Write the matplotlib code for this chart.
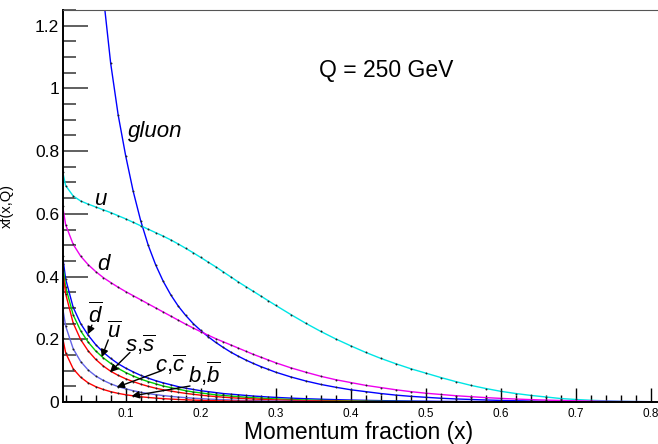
import matplotlib
matplotlib.use("Agg")
import matplotlib.pyplot as plt
from matplotlib.ticker import MultipleLocator, FixedLocator
from matplotlib.transforms import ScaledTranslation

plt.rcParams['font.family'] = ['Liberation Sans', 'DejaVu Sans']
plt.rcParams['mathtext.fontset'] = 'custom'
plt.rcParams['mathtext.it'] = 'Liberation Sans:italic'
plt.rcParams['mathtext.rm'] = 'Liberation Sans'
plt.rcParams['mathtext.bf'] = 'Liberation Sans:bold'

# Momentum fraction grid
x = [0.016,
     0.02, 0.03, 0.04, 0.05, 0.06, 0.07, 0.08, 0.09, 0.10, 0.11,
     0.12, 0.13, 0.14, 0.15, 0.16, 0.17, 0.18, 0.19, 0.20, 0.21,
     0.22, 0.23, 0.24, 0.25, 0.26, 0.27, 0.28, 0.29, 0.30,
     0.32, 0.34, 0.36, 0.38, 0.40, 0.42, 0.44, 0.46, 0.48, 0.50,
     0.52, 0.54, 0.56, 0.58, 0.60, 0.62, 0.64, 0.66, 0.68, 0.70,
     0.72, 0.74, 0.76, 0.78, 0.80]

# x f(x, Q) at Q = 250 GeV
gluon = [7.0,
         5.6, 3.7, 2.7, 2.05, 1.62, 1.30, 1.08, 0.915, 0.785, 0.672,
         0.578, 0.500, 0.437, 0.385, 0.342, 0.306, 0.276, 0.250, 0.228, 0.208,
         0.190, 0.174, 0.159, 0.146, 0.134, 0.123, 0.113, 0.104, 0.095,
         0.080, 0.067, 0.056, 0.047, 0.039, 0.033, 0.027, 0.022, 0.018, 0.015,
         0.012, 0.0098, 0.008, 0.0064, 0.005, 0.004, 0.0031, 0.0024, 0.0018, 0.0014,
         0.001, 0.0008, 0.0006, 0.0004, 0.0003]
u_q = [0.735,
       0.690, 0.657, 0.641, 0.631, 0.622, 0.613, 0.604, 0.594, 0.584, 0.573,
       0.562, 0.551, 0.540, 0.529, 0.517, 0.504, 0.490, 0.476, 0.461, 0.446,
       0.431, 0.415, 0.399, 0.383, 0.368, 0.353, 0.338, 0.323, 0.308,
       0.279, 0.251, 0.225, 0.201, 0.179, 0.158, 0.139, 0.122, 0.106, 0.092,
       0.078, 0.065, 0.053, 0.043, 0.034, 0.027, 0.021, 0.016, 0.011, 0.008,
       0.0055, 0.0037, 0.0024, 0.0015, 0.001]
d_q = [0.625,
       0.565, 0.503, 0.465, 0.438, 0.416, 0.397, 0.381, 0.366, 0.352, 0.339,
       0.326, 0.313, 0.300, 0.287, 0.274, 0.261, 0.248, 0.236, 0.224, 0.213,
       0.202, 0.192, 0.182, 0.172, 0.162, 0.152, 0.143, 0.134, 0.125,
       0.109, 0.095, 0.082, 0.071, 0.062, 0.053, 0.046, 0.039, 0.033, 0.028,
       0.024, 0.020, 0.017, 0.014, 0.0115, 0.0094, 0.0076, 0.0061, 0.0048, 0.0038,
       0.003, 0.0023, 0.0017, 0.0013, 0.001]
dbar = [0.465,
        0.392, 0.302, 0.250, 0.213, 0.183, 0.159, 0.139, 0.122, 0.108, 0.096,
        0.085, 0.076, 0.068, 0.061, 0.055, 0.049, 0.044, 0.040, 0.036, 0.033,
        0.030, 0.027, 0.025, 0.023, 0.021, 0.019, 0.0175, 0.016, 0.0147,
        0.0124, 0.0105, 0.0089, 0.0075, 0.0063, 0.0053, 0.0044, 0.0037, 0.0031, 0.0026,
        0.0021, 0.0017, 0.0014, 0.0011, 0.0009, 0.0007, 0.00055, 0.00042, 0.00032, 0.00024,
        0.00018, 0.00013, 0.0001, 0.00007, 0.00005]
ubar = [0.44,
        0.367, 0.278, 0.227, 0.191, 0.163, 0.141, 0.123, 0.107, 0.094, 0.083,
        0.073, 0.065, 0.058, 0.051, 0.046, 0.041, 0.036, 0.032, 0.029, 0.026,
        0.023, 0.021, 0.019, 0.017, 0.0152, 0.0137, 0.0123, 0.011, 0.0099,
        0.008, 0.0065, 0.0052, 0.0042, 0.0034, 0.0027, 0.0022, 0.0017, 0.0014, 0.0011,
        0.0009, 0.0007, 0.00055, 0.00043, 0.00034, 0.00026, 0.0002, 0.00015, 0.00011, 0.00008,
        0.00006, 0.00004, 0.00003, 0.00002, 0.00001]
s_q = [0.42,
       0.345, 0.252, 0.199, 0.163, 0.136, 0.115, 0.098, 0.085, 0.074, 0.065,
       0.057, 0.050, 0.044, 0.039, 0.035, 0.031, 0.0275, 0.0245, 0.0218, 0.0194,
       0.0173, 0.0154, 0.0137, 0.0122, 0.0109, 0.0097, 0.0086, 0.0077, 0.0068,
       0.0054, 0.0043, 0.0034, 0.0027, 0.0021, 0.0016, 0.0013, 0.001, 0.0008, 0.0006,
       0.00046, 0.00035, 0.00027, 0.0002, 0.00015, 0.00011, 0.00008, 0.00006, 0.00004, 0.00003,
       0.00002, 0.00001, 0.00001, 0.0, 0.0]
c_q = [0.30,
       0.242, 0.170, 0.129, 0.102, 0.083, 0.069, 0.058, 0.049, 0.042, 0.036,
       0.031, 0.027, 0.0235, 0.0205, 0.018, 0.0158, 0.0139, 0.0122, 0.0107, 0.0094,
       0.0083, 0.0073, 0.0064, 0.0056, 0.0049, 0.0043, 0.0038, 0.0033, 0.0029,
       0.0022, 0.0017, 0.0013, 0.001, 0.0008, 0.0006, 0.00045, 0.00034, 0.00026, 0.0002,
       0.00015, 0.00011, 0.00008, 0.00006, 0.00004, 0.00003, 0.00002, 0.00001, 0.00001, 0.0,
       0.0, 0.0, 0.0, 0.0, 0.0]
b_q = [0.205,
       0.157, 0.106, 0.079, 0.061, 0.049, 0.040, 0.033, 0.0275, 0.0232, 0.0197,
       0.0168, 0.0144, 0.0124, 0.0107, 0.0093, 0.0081, 0.007, 0.0061, 0.0053, 0.0046,
       0.004, 0.0035, 0.003, 0.0026, 0.0023, 0.002, 0.0017, 0.0015, 0.0013,
       0.001, 0.0008, 0.0006, 0.00045, 0.00035, 0.00027, 0.0002, 0.00015, 0.00011, 0.00008,
       0.00006, 0.00004, 0.00003, 0.00002, 0.00001, 0.0, 0.0, 0.0, 0.0, 0.0,
       0.0, 0.0, 0.0, 0.0, 0.0]

series = [
    (gluon, '#0000ff'),
    (u_q, '#00e5e5'),
    (d_q, '#ee00ee'),
    (dbar, '#0000ff'),
    (ubar, '#00d000'),
    (s_q, '#ff0000'),
    (c_q, '#6464e6'),
    (b_q, '#ff0000'),
]

W, H = 658, 444
fig = plt.figure(figsize=(W / 100, H / 100), dpi=100)
x_lo, x_hi = 0.0158, 0.82
px_per_unit = 750.4
left_px, bottom_px, top_px = 62.5, 402.0, 10.0
ax_w = (x_hi - x_lo) * px_per_unit
ax_h = bottom_px - top_px
ax = fig.add_axes([left_px / W, (H - bottom_px) / H, ax_w / W, ax_h / H])
ax.set_xlim(x_lo, x_hi)
ax.set_ylim(0, 1.25)

for vals, col in series:
    ax.plot(x, vals, color=col, lw=1.0, marker='o', markersize=1.4,
            markerfacecolor='#222222', markeredgewidth=0, solid_joinstyle='round')

# axes styling
ax.spines['right'].set_visible(False)
ax.spines['left'].set_linewidth(1.4)
ax.spines['bottom'].set_linewidth(1.4)
ax.spines['top'].set_linewidth(0.8)
ax.spines['top'].set_color('#555555')

ax.xaxis.set_major_locator(FixedLocator([0.1, 0.2, 0.3, 0.4, 0.5, 0.6, 0.7, 0.8]))
ax.xaxis.set_minor_locator(MultipleLocator(0.02))
ax.yaxis.set_major_locator(MultipleLocator(0.2))
ax.yaxis.set_minor_locator(MultipleLocator(0.05))
ax.xaxis.set_major_formatter(plt.FuncFormatter(lambda v, p: f"{v:g}"))
ax.yaxis.set_major_formatter(plt.FuncFormatter(lambda v, p: f"{v:g}"))

ax.tick_params(axis='x', which='major', direction='in', length=10, width=1,
               labelsize=8.5, pad=4, color='black')
ax.tick_params(axis='x', which='minor', direction='in', length=5, width=1, color='black')
ax.tick_params(axis='y', which='major', direction='in', length=18, width=1.2,
               labelsize=12.5, pad=2.5, color='#444444')
ax.tick_params(axis='y', which='minor', direction='in', length=9, width=1.2, color='#444444')

ax.set_xlabel('Momentum fraction (x)', fontsize=16.5)
ax.xaxis.set_label_coords((359 - left_px) / ax_w, -(421 - bottom_px) / ax_h)
ax.set_ylabel('xf(x,Q)', fontsize=10.5)
ax.yaxis.set_label_coords(-(left_px - 14) / ax_w, 0.5)

ax.text(0.3576, 1.035, 'Q = 250 GeV', fontsize=16.5, ha='left', va='baseline')

lab = dict(fontsize=16, fontstyle='italic', ha='left', va='baseline')
ax.text(0.103, 0.845, 'gluon', **lab)
ax.text(0.058, 0.629, 'u', **lab)
ax.text(0.062, 0.422, 'd', **lab)
mlab = dict(fontsize=16, ha='left', va='baseline')
ax.text(0.0502, 0.251, r'$\overline{d}$', **mlab)
ax.text(0.0747, 0.204, r'$\overline{u}$', **mlab)
ax.text(0.0991, 0.161, r'$s{,}\overline{s}$', **mlab)
ax.text(0.139, 0.097, r'$c{,}\overline{c}$', **mlab)
ax.text(0.183, 0.060, r'$b{,}\overline{b}$', **mlab)

arrows = [
    ((0.055, 0.245), (0.0495, 0.216)),
    ((0.0768, 0.198), (0.068, 0.143)),
    ((0.1057, 0.158), (0.079, 0.095)),
    ((0.148, 0.100), (0.088, 0.047)),
    ((0.1857, 0.051), (0.108, 0.019)),
]
for tail, tip in arrows:
    ax.annotate('', xy=tip, xytext=tail,
                arrowprops=dict(arrowstyle='-|>', color='black', lw=1.0,
                                mutation_scale=11, shrinkA=0, shrinkB=0))

# the "0" label at the origin sits a little further left
fig.canvas.draw()
t0 = ax.yaxis.get_major_ticks()[0]
t0.label1.set_transform(t0.label1.get_transform() +
                        ScaledTranslation(-7 / 72, 0, fig.dpi_scale_trans))

fig.savefig('out.png', dpi=100)
